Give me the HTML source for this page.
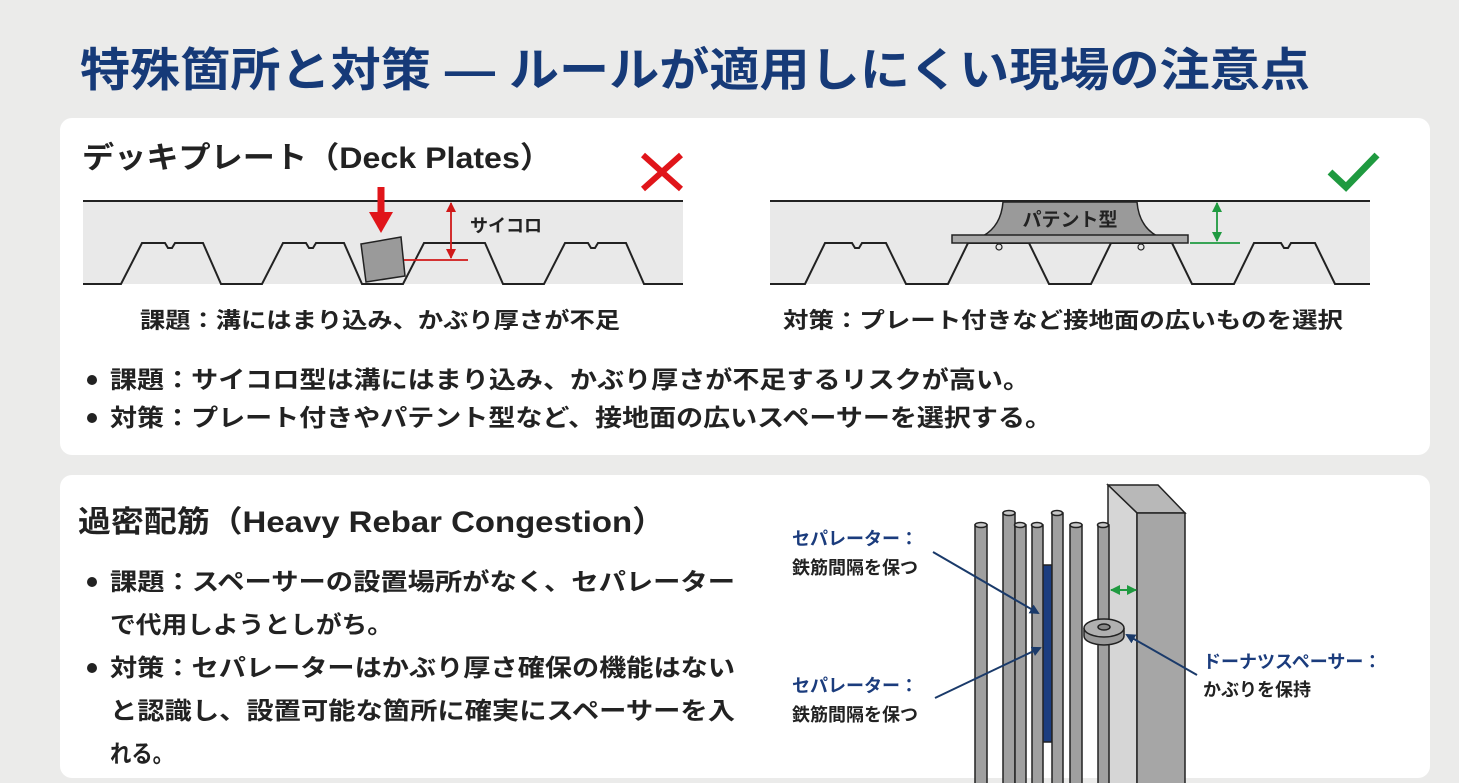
<!DOCTYPE html>
<html><head><meta charset="utf-8"><style>
html,body{margin:0;padding:0;background:#ebebea;}
svg{display:block}
text{font-family:"Liberation Sans","Noto Sans CJK JP",sans-serif;font-weight:bold;}
</style></head><body>
<svg width="1459" height="783" viewBox="0 0 1459 783" xmlns="http://www.w3.org/2000/svg">
<defs>
<marker id="ab" markerWidth="10" markerHeight="10" refX="8" refY="5" orient="auto" markerUnits="userSpaceOnUse"><path d="M0,0 L10,5 L0,10 z" fill="#1a3a6a"/></marker>
<marker id="ar" markerWidth="10" markerHeight="10" refX="9" refY="5" orient="auto-start-reverse" markerUnits="userSpaceOnUse"><path d="M0,0 L10,5 L0,10 z" fill="#d01818"/></marker>
<marker id="ag" markerWidth="10" markerHeight="10" refX="9" refY="5" orient="auto-start-reverse" markerUnits="userSpaceOnUse"><path d="M0,0 L10,5 L0,10 z" fill="#1f9a40"/></marker>
</defs>
<rect width="1459" height="783" fill="#ebebea"/>
<text x="80" y="86" font-size="46" fill="#163a78" textLength="1230" lengthAdjust="spacingAndGlyphs">特殊箇所と対策 — ルールが適用しにくい現場の注意点</text>

<!-- card 1 -->
<rect x="60" y="118" width="1370" height="337" rx="12" fill="#fff"/>
<text x="82" y="168" font-size="30" fill="#222" textLength="470" lengthAdjust="spacingAndGlyphs">デッキプレート（Deck Plates）</text>
<path d="M643,155 L681,189 M681,155 L643,189" stroke="#e0151a" stroke-width="6"/>
<path d="M1330,172 L1346,187 L1377,155" stroke="#1f9a40" stroke-width="7" fill="none"/>

<!-- left deck -->
<rect x="83" y="201" width="600" height="83" fill="#e9e9e9"/>
<line x1="83" y1="201" x2="683" y2="201" stroke="#222" stroke-width="2"/>
<path d="M83,284 L121,284 L142,243 L165,243 l3,5 l4,0 l3,-5 L203,243 L221,284 L262,284 L283,243 L306,243 l3,5 l4,0 l3,-5 L344,243 L362,284 L403,284 L424,243 L485,243 L503,284 L544,284 L565,243 L588,243 l3,5 l4,0 l3,-5 L626,243 L644,284 L683,284" fill="none" stroke="#222" stroke-width="2"/>
<polygon points="361,244 401,237 405,276 366,282" fill="#9a9a9a" stroke="#222" stroke-width="1.5"/>
<line x1="381" y1="187" x2="381" y2="215" stroke="#e0151a" stroke-width="7"/>
<path d="M369,212 L393,212 L381,233 z" fill="#e0151a"/>
<line x1="451" y1="203" x2="451" y2="258" stroke="#d01818" stroke-width="1.8" marker-start="url(#ar)" marker-end="url(#ar)"/>
<line x1="404" y1="260" x2="468" y2="260" stroke="#d01818" stroke-width="1.8"/>
<text x="470" y="232" font-size="18" fill="#222">サイコロ</text>
<text x="140" y="328" font-size="22" fill="#222" textLength="480" lengthAdjust="spacingAndGlyphs">課題：溝にはまり込み、かぶり厚さが不足</text>

<!-- right deck -->
<rect x="770" y="201" width="600" height="83" fill="#e9e9e9"/>
<line x1="770" y1="201" x2="1370" y2="201" stroke="#222" stroke-width="2"/>
<path d="M770,284 L805,284 L825,243 L852,243 l3,5 l4,0 l3,-5 L886,243 L906,284 L948,284 L968,243 L1029,243 L1049,284 L1091,284 L1111,243 L1172,243 L1192,284 L1234,284 L1254,243 L1281,243 l3,5 l4,0 l3,-5 L1315,243 L1335,284 L1370,284" fill="none" stroke="#222" stroke-width="2"/>
<circle cx="999" cy="247" r="3" fill="#e9e9e9" stroke="#222" stroke-width="1.2"/>
<circle cx="1141" cy="247" r="3" fill="#e9e9e9" stroke="#222" stroke-width="1.2"/>
<path d="M1003,202 L1137,202 Q1139,226 1157,236 L983,236 Q1001,226 1003,202 z" fill="#9a9a9a" stroke="#222" stroke-width="1.5"/>
<rect x="952" y="235" width="236" height="8" fill="#a8a8a8" stroke="#222" stroke-width="1.5"/>
<text x="1070" y="226" font-size="19" fill="#222" text-anchor="middle">パテント型</text>
<line x1="1217" y1="203" x2="1217" y2="241" stroke="#1f9a40" stroke-width="1.8" marker-start="url(#ag)" marker-end="url(#ag)"/>
<line x1="1190" y1="243" x2="1240" y2="243" stroke="#1f9a40" stroke-width="1.8"/>
<text x="783" y="328" font-size="22" fill="#222" textLength="560" lengthAdjust="spacingAndGlyphs">対策：プレート付きなど接地面の広いものを選択</text>

<circle cx="92" cy="380" r="5" fill="#222"/>
<text x="110" y="388" font-size="24" fill="#222" textLength="920" lengthAdjust="spacingAndGlyphs">課題：サイコロ型は溝にはまり込み、かぶり厚さが不足するリスクが高い。</text>
<circle cx="92" cy="418" r="5" fill="#222"/>
<text x="110" y="426" font-size="24" fill="#222" textLength="942" lengthAdjust="spacingAndGlyphs">対策：プレート付きやパテント型など、接地面の広いスペーサーを選択する。</text>

<!-- card 2 -->
<rect x="60" y="475" width="1370" height="303" rx="12" fill="#fff"/>
<text x="78" y="532" font-size="30" fill="#222" textLength="587" lengthAdjust="spacingAndGlyphs">過密配筋（Heavy Rebar Congestion）</text>
<circle cx="92" cy="582" r="5" fill="#222"/>
<text x="110" y="590" font-size="24" fill="#222" textLength="625" lengthAdjust="spacingAndGlyphs">課題：スペーサーの設置場所がなく、セパレーター</text>
<text x="110" y="633" font-size="24" fill="#222" textLength="283" lengthAdjust="spacingAndGlyphs">で代用しようとしがち。</text>
<circle cx="92" cy="668" r="5" fill="#222"/>
<text x="110" y="676" font-size="24" fill="#222" textLength="625" lengthAdjust="spacingAndGlyphs">対策：セパレーターはかぶり厚さ確保の機能はない</text>
<text x="110" y="719" font-size="24" fill="#222" textLength="625" lengthAdjust="spacingAndGlyphs">と認識し、設置可能な箇所に確実にスペーサーを入</text>
<text x="110" y="762" font-size="24" fill="#222" textLength="64" lengthAdjust="spacingAndGlyphs">れる。</text>

<!-- rebar figure -->
<g stroke="#222" stroke-width="1.5">
<rect x="1042" y="565" width="10" height="177" fill="#1b3d80"/>
<rect x="975" y="525" width="12" height="260" fill="#a0a0a0"/><ellipse cx="981" cy="525" rx="6" ry="2.5" fill="#c8c8c8"/>
<rect x="1003" y="513" width="12" height="272" fill="#a0a0a0"/><ellipse cx="1009" cy="513" rx="6" ry="2.5" fill="#c8c8c8"/>
<rect x="1015" y="525" width="11" height="260" fill="#a0a0a0"/><ellipse cx="1020" cy="525" rx="5.5" ry="2.5" fill="#c8c8c8"/>
<rect x="1032" y="525" width="11" height="260" fill="#a0a0a0"/><ellipse cx="1037" cy="525" rx="5.5" ry="2.5" fill="#c8c8c8"/>
<rect x="1052" y="513" width="11" height="272" fill="#a0a0a0"/><ellipse cx="1057" cy="513" rx="5.5" ry="2.5" fill="#c8c8c8"/>
<rect x="1070" y="525" width="12" height="260" fill="#a0a0a0"/><ellipse cx="1076" cy="525" rx="6" ry="2.5" fill="#c8c8c8"/>
<polygon points="1108,485 1158,485 1185,513 1137,513" fill="#b8b8b8"/>
<polygon points="1108,485 1137,513 1137,785 1108,785" fill="#d6d6d6"/>
<rect x="1137" y="513" width="48" height="272" fill="#a6a6a6"/>
<rect x="1098" y="525" width="11" height="260" fill="#a0a0a0"/><ellipse cx="1103" cy="525" rx="5.5" ry="2.5" fill="#c8c8c8"/>
<path d="M1084,628 L1084,636 A20,9 0 0 0 1124,636 L1124,628" fill="#9a9a9a"/>
<ellipse cx="1104" cy="628" rx="20" ry="9" fill="#b0b0b0"/>
<ellipse cx="1104" cy="627" rx="6" ry="3" fill="#888"/>
</g>
<line x1="1111" y1="590" x2="1136" y2="590" stroke="#1f9a40" stroke-width="2" marker-start="url(#ag)" marker-end="url(#ag)"/>

<line x1="933" y1="552" x2="1038" y2="613" stroke="#1a3a6a" stroke-width="2" marker-end="url(#ab)"/>
<line x1="935" y1="698" x2="1040" y2="648" stroke="#1a3a6a" stroke-width="2" marker-end="url(#ab)"/>
<line x1="1197" y1="675" x2="1127" y2="635" stroke="#1a3a6a" stroke-width="2" marker-end="url(#ab)"/>

<text x="792" y="545" font-size="18" fill="#1b3c7d">セパレーター：</text>
<text x="792" y="574" font-size="18" fill="#222">鉄筋間隔を保つ</text>
<text x="792" y="692" font-size="18" fill="#1b3c7d">セパレーター：</text>
<text x="792" y="721" font-size="18" fill="#222">鉄筋間隔を保つ</text>
<text x="1203" y="668" font-size="18" fill="#1b3c7d">ドーナツスペーサー：</text>
<text x="1203" y="696" font-size="18" fill="#222">かぶりを保持</text>
</svg>
</body></html>
